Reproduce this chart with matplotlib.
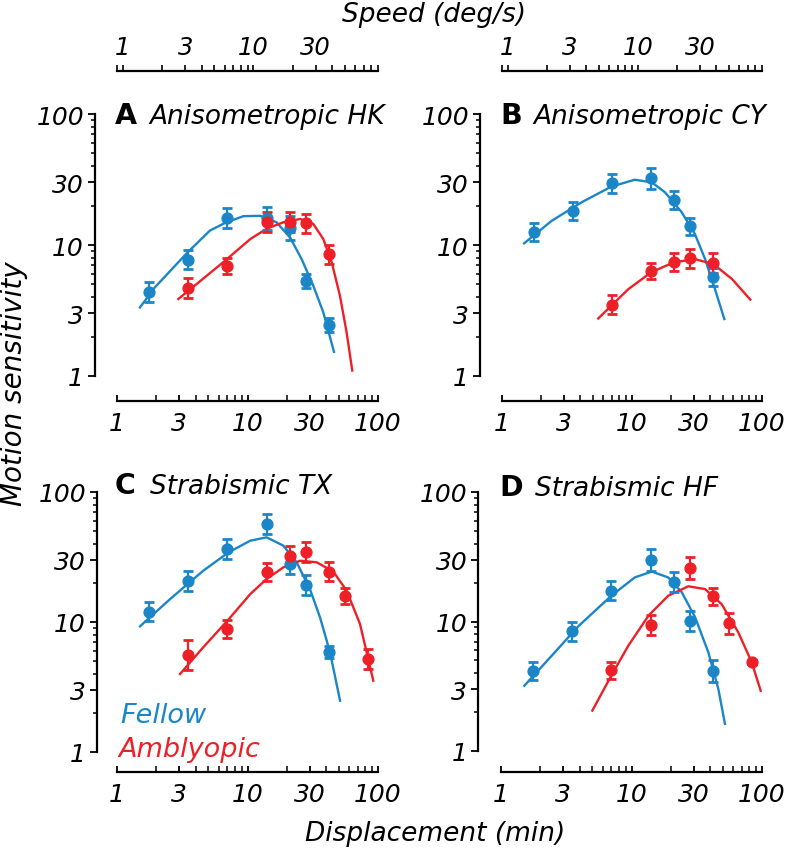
import numpy as np
import matplotlib
matplotlib.use('Agg')
import matplotlib.pyplot as plt
from matplotlib.ticker import FixedLocator, NullFormatter

plt.rcParams['font.family'] = ['DejaVu Sans']
plt.rcParams['font.style'] = 'italic'

BLUE = '#1a86c8'
RED = '#ee2027'

# ---- data (displacement in min, sensitivity, log10 half error) ----
a_blue_x = [1.75, 3.5, 7, 14, 21, 28, 42]
a_blue_y = [4.35, 7.7, 16.1, 16.0, 13.5, 5.3, 2.46]
a_blue_e = [0.076, 0.073, 0.076, 0.088, 0.092, 0.051, 0.053]
a_red_x = [3.5, 7, 14, 21, 28, 42]
a_red_y = [4.7, 6.9, 15.1, 15.1, 14.7, 8.5]
a_red_e = [0.073, 0.061, 0.076, 0.076, 0.073, 0.074]
a_blue_fx = [1.50, 1.95, 3.48, 5.16, 6.88, 9.3, 12.5, 16.7, 21.2, 26, 31.9, 38.1, 46]
a_blue_fy = [3.34, 4.75, 8.8, 12.9, 14.9, 16.6, 16.7, 14.9, 11.4, 7.8, 4.9, 3.06, 1.53]
a_red_fx = [2.95, 4.08, 6.88, 10.5, 14, 18.8, 25.3, 31.9, 38.1, 44.2, 51.1, 57.5, 63.5]
a_red_fy = [3.87, 5.04, 7.73, 11.1, 13.3, 14.9, 15.8, 14.5, 11.1, 7.38, 4.1, 2.15, 1.10]

b_blue_x = [1.75, 3.5, 7, 14, 21, 28, 42]
b_blue_y = [12.5, 18.3, 29.7, 32.3, 22.0, 13.9, 5.67]
b_blue_e = [0.069, 0.069, 0.073, 0.08, 0.069, 0.065, 0.069]
b_red_x = [7, 14, 21, 28, 42]
b_red_y = [3.5, 6.3, 7.4, 7.9, 7.25]
b_red_e = [0.073, 0.061, 0.071, 0.074, 0.076]
b_blue_fx = [1.48, 2.41, 4.1, 6.93, 10.5, 14.2, 17.9, 24.1, 30.5, 36.5, 43.5, 51.3]
b_blue_fy = [10.3, 15.3, 21.2, 27.9, 31.5, 30.1, 25.3, 17.8, 12.1, 7.8, 4.6, 2.72]
b_red_fx = [5.5, 6.93, 9.37, 14, 21, 30.5, 42.2, 58.8, 81.3]
b_red_fy = [2.75, 3.44, 4.6, 6.18, 7.38, 7.8, 7.16, 5.5, 3.83]

c_blue_x = [1.75, 3.5, 7, 14, 21, 28, 42]
c_blue_y = [12.0, 20.6, 36.4, 56.7, 28, 19.3, 5.9]
c_blue_e = [0.075, 0.077, 0.077, 0.077, 0.077, 0.077, 0.046]
c_red_x = [3.5, 7, 14, 21, 28, 42, 56, 84]
c_red_y = [5.57, 8.83, 24.1, 32.4, 34.4, 24.4, 15.8, 5.2]
c_red_e = [0.113, 0.072, 0.069, 0.077, 0.077, 0.075, 0.064, 0.075]
c_blue_fx = [1.5, 2.55, 4.58, 7.18, 10.5, 14, 18.8, 23.8, 30.1, 35.9, 42.9, 51.2]
c_blue_fy = [9.26, 15, 24.8, 34.4, 42.2, 44.8, 38.7, 28.8, 17.9, 10.9, 5.85, 2.48]
c_red_fx = [3.04, 4.58, 7.18, 10.5, 14, 18.8, 25.3, 33.9, 45.5, 57.5, 72.8, 92]
c_red_fy = [3.98, 6.39, 10.5, 16.4, 21.4, 26.3, 29.6, 28.8, 24.4, 17.4, 9.65, 3.54]

d_blue_x = [1.75, 3.5, 7, 14, 21, 28, 42]
d_blue_y = [4.17, 8.4, 17.3, 30, 20.1, 10.1, 4.17]
d_blue_e = [0.069, 0.073, 0.073, 0.085, 0.077, 0.077, 0.085]
d_red_x = [7, 14, 28, 42, 56, 84]
d_red_y = [4.2, 9.4, 25.7, 15.6, 9.7, 4.9]
d_red_e = [0.067, 0.075, 0.085, 0.069, 0.081, 0.015]
d_blue_fx = [1.51, 2.45, 3.91, 7.0, 10.6, 14.3, 19.1, 24.3, 30.7, 38.8, 46.3, 52]
d_blue_fy = [3.19, 5.45, 9.18, 15.8, 21.9, 24.3, 21.9, 16.8, 10.8, 5.78, 3.01, 1.62]
d_red_fx = [5.01, 7, 9.45, 13.5, 19.1, 27.2, 36.6, 49.1, 65.8, 83.4, 97.7]
d_red_fy = [2.05, 3.82, 6.5, 11.1, 15.8, 18.7, 17.8, 13.6, 8.25, 4.84, 2.92]

log_ticks = [1, 3, 10, 30, 100]
log_minor = [2, 4, 5, 6, 7, 8, 9, 20, 40, 50, 60, 70, 80, 90]
speed_ticks = [1, 3, 10, 30]
speed_minor = [0.9, 2, 4, 5, 6, 7, 8, 9, 20, 40, 50, 60, 70, 80, 90]

W, H = 786, 853
fig = plt.figure(figsize=(W / 100, H / 100), dpi=100)


def px_axes(x0, x1, y0, y1):
    return fig.add_axes([x0 / W, 1 - y1 / H, (x1 - x0) / W, (y1 - y0) / H])


def panel(ax, letter, name, name_x, title_y, left_off, bot_off, series):
    ax.set_xscale('log'); ax.set_yscale('log')
    for fx, fy, x, y, e, col in series:
        ax.plot(fx, fy, '-', color=col, lw=1.7, solid_joinstyle='round')
    for fx, fy, x, y, e, col in series:
        x = np.array(x); y = np.array(y); e = np.array(e)
        lo = y - y / 10 ** e
        hi = y * 10 ** e - y
        ax.errorbar(x, y, yerr=[lo, hi], fmt='o', color=col, ms=7.8,
                    mec=col, elinewidth=1.6, capsize=3.6, capthick=2.0)
    ax.set_xlim(1, 100); ax.set_ylim(1, 100)
    for s in ['top', 'right']:
        ax.spines[s].set_visible(False)
    ax.spines['left'].set_position(('outward', left_off))
    ax.spines['bottom'].set_position(('outward', bot_off))
    for s in ['left', 'bottom']:
        ax.spines[s].set_linewidth(1.6)
    for axis in [ax.xaxis, ax.yaxis]:
        axis.set_major_locator(FixedLocator(log_ticks))
        axis.set_minor_locator(FixedLocator(log_minor))
        axis.set_minor_formatter(NullFormatter())
    ax.set_xticklabels([str(t) for t in log_ticks])
    ax.set_yticklabels([str(t) for t in log_ticks])
    ax.tick_params(axis='y', which='major', direction='out', length=4.8, width=1.3,
                   labelsize=18, pad=3)
    ax.tick_params(axis='y', which='minor', direction='out', length=3.0, width=1.1)
    ax.tick_params(axis='x', which='major', direction='in', length=4, width=1.3,
                   labelsize=18, pad=7)
    ax.tick_params(axis='x', which='minor', direction='in', length=4, width=1.1)
    ax.patch.set_visible(False)
    ax.text(-0.008, title_y, letter, transform=ax.transAxes, ha='left', va='baseline',
            fontsize=20.5, fontweight='bold', fontstyle='normal')
    ax.text(name_x, title_y, name, transform=ax.transAxes, ha='left', va='baseline',
            fontsize=19)


def speed_axis(x0, x1, y):
    sa = px_axes(x0, x1, y, y + 0.5)
    sa.set_xscale('log')
    sa.set_xlim(0.9, 90)
    sa.set_yticks([])
    for s in ['left', 'right', 'bottom']:
        sa.spines[s].set_visible(False)
    sa.spines['top'].set_linewidth(1.6)
    sa.xaxis.set_ticks_position('top')
    sa.xaxis.set_major_locator(FixedLocator(speed_ticks))
    sa.xaxis.set_minor_locator(FixedLocator(speed_minor))
    sa.xaxis.set_minor_formatter(NullFormatter())
    sa.set_xticklabels([str(t) for t in speed_ticks])
    sa.tick_params(axis='x', which='both', direction='out', length=4, width=1.2,
                   labelsize=17.5, pad=4.5)
    sa.patch.set_visible(False)


axA = px_axes(117, 378, 115, 377)
panel(axA, 'A', 'Anisometropic HK', 0.126, 0.966, 16, 18,
      [(a_blue_fx, a_blue_fy, a_blue_x, a_blue_y, a_blue_e, BLUE),
       (a_red_fx, a_red_fy, a_red_x, a_red_y, a_red_e, RED)])
axB = px_axes(502, 762, 115, 377)
panel(axB, 'B', 'Anisometropic CY', 0.119, 0.966, 16, 18,
      [(b_blue_fx, b_blue_fy, b_blue_x, b_blue_y, b_blue_e, BLUE),
       (b_red_fx, b_red_fy, b_red_x, b_red_y, b_red_e, RED)])
axC = px_axes(117, 378, 493, 753)
panel(axC, 'C', 'Strabismic TX', 0.126, 0.996, 14.5, 14.5,
      [(c_blue_fx, c_blue_fy, c_blue_x, c_blue_y, c_blue_e, BLUE),
       (c_red_fx, c_red_fy, c_red_x, c_red_y, c_red_e, RED)])
axD = px_axes(501, 762, 493, 752)
panel(axD, 'D', 'Strabismic HF', 0.13, 0.99, 16.5, 15,
      [(d_blue_fx, d_blue_fy, d_blue_x, d_blue_y, d_blue_e, BLUE),
       (d_red_fx, d_red_fy, d_red_x, d_red_y, d_red_e, RED)])

speed_axis(117, 378, 72)
speed_axis(502, 762, 72)

axC.text(0.011, 0.115, 'Fellow', transform=axC.transAxes, color=BLUE,
         fontsize=19.5, ha='left', va='baseline')
axC.text(0.004, -0.014, 'Amblyopic', transform=axC.transAxes, color=RED,
         fontsize=19.5, ha='left', va='baseline')

fig.text(434.5 / W, 1 - 22 / H, 'Speed (deg/s)', ha='center', va='baseline', fontsize=19)
fig.text(435 / W, 1 - 841 / H, 'Displacement (min)', ha='center', va='baseline', fontsize=19)
fig.text(14 / W, 1 - 384 / H, 'Motion sensitivity', rotation=90, ha='center',
         va='center', fontsize=20)

fig.savefig('out.png', dpi=100)
